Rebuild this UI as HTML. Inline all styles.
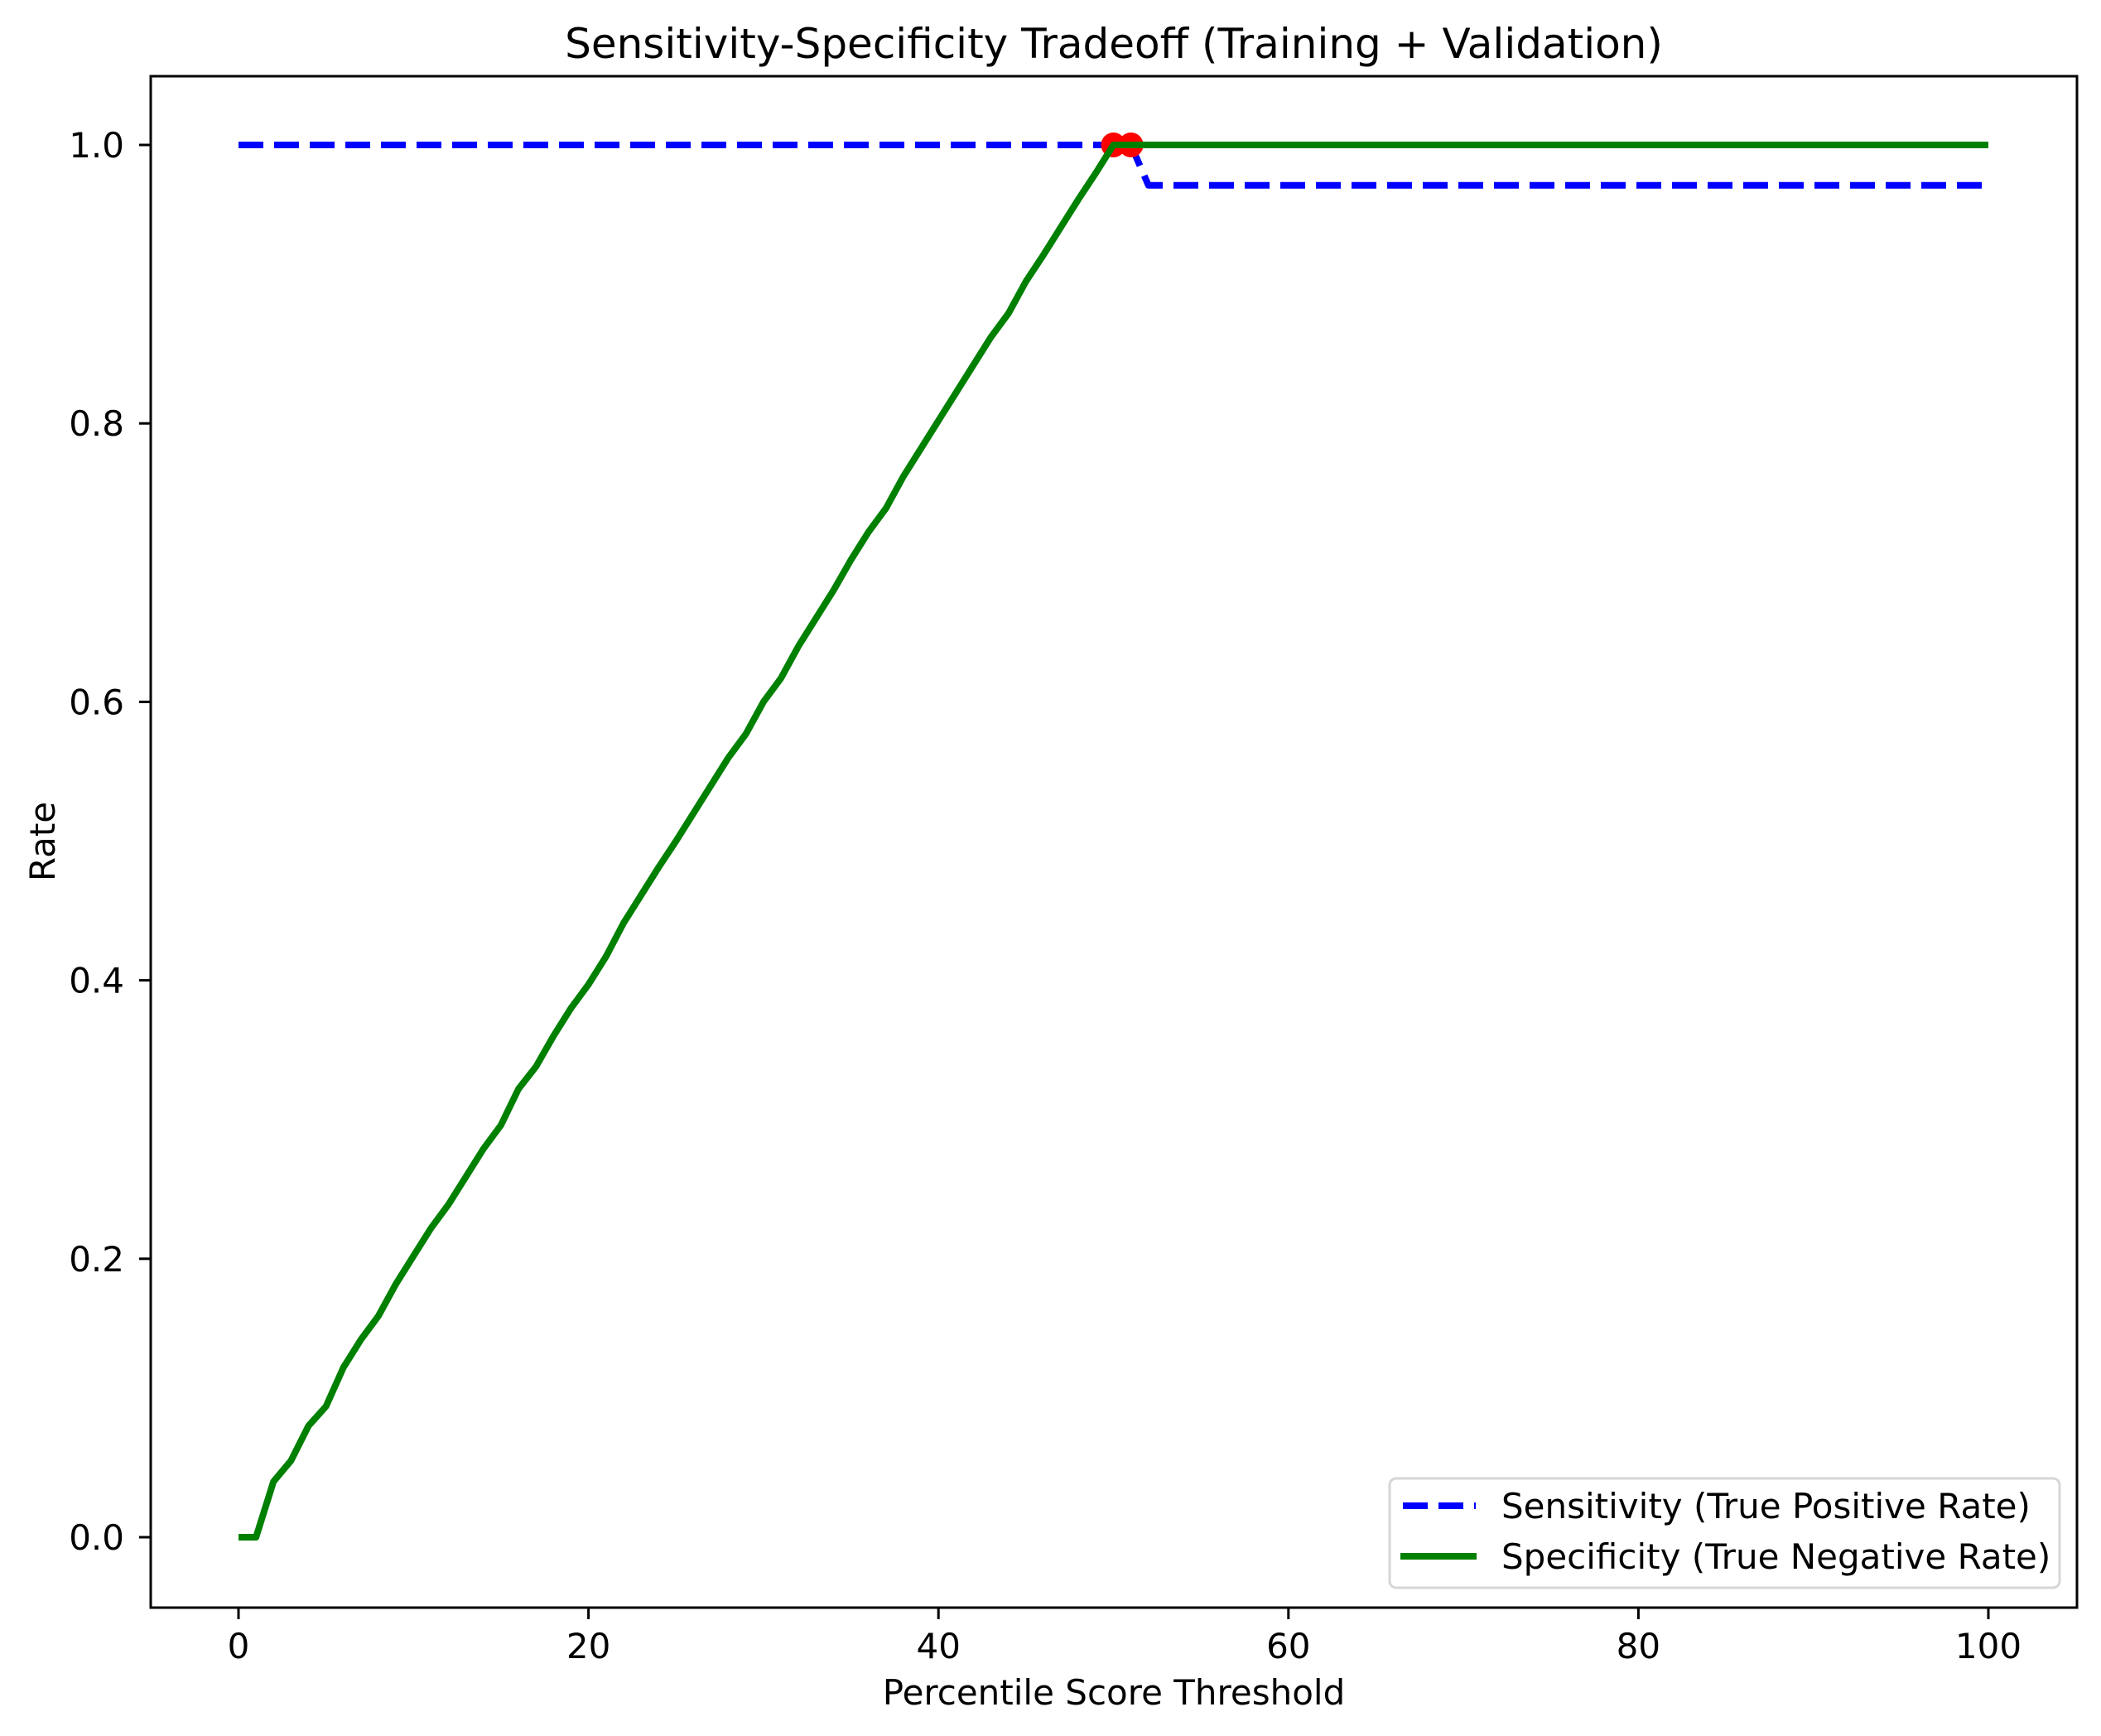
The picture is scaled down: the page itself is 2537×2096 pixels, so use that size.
<!DOCTYPE html>
<html><head><meta charset="utf-8"><style>
html,body{margin:0;padding:0;background:#fff}
svg{display:block}
text{font-family:"DejaVu Sans","Liberation Sans",sans-serif;fill:#000}
</style></head><body>
<svg id="chart" width="2537" height="2096" viewBox="0 0 2537 2096" xmlns="http://www.w3.org/2000/svg">
<rect x="0" y="0" width="2537" height="2096" fill="#fff"/>
<text x="1345" y="70" font-size="50" text-anchor="middle">Sensitivity-Specificity Tradeoff (Training + Validation)</text>
<g id="plot"></g>
<rect x="182" y="92" width="2326" height="1849" fill="none" stroke="#000" stroke-width="3"/>
<g id="xticks"></g>
<g id="yticks"></g>
<text x="1345" y="2058" font-size="42" text-anchor="middle">Percentile Score Threshold</text>
<text x="0" y="0" font-size="42" text-anchor="middle" transform="translate(66,1016) rotate(-90)">Rate</text>
<g>
<rect x="1678" y="1785" width="809" height="132" rx="8" fill="#fff" fill-opacity="0.8" stroke="#d6d6d6" stroke-width="3"/>
<line x1="1694" y1="1818" x2="1782" y2="1818" stroke="#0000ff" stroke-width="8" stroke-dasharray="30,13"/>
<text x="1813" y="1833" font-size="42">Sensitivity (True Positive Rate)</text>
<line x1="1691" y1="1879" x2="1783" y2="1879" stroke="#008000" stroke-width="8"/>
<text x="1813" y="1894" font-size="42">Specificity (True Negative Rate)</text>
</g>
</svg>
<script>
const thresholds = Array.from({length:101},(_,i)=>i);
const sensitivity = [1,1,1,1,1,1,1,1,1,1, 1,1,1,1,1,1,1,1,1,1, 1,1,1,1,1,1,1,1,1,1, 1,1,1,1,1,1,1,1,1,1, 1,1,1,1,1,1,1,1,1,1, 1,1,0.971,0.971,0.971,0.971,0.971,0.971,0.971,0.971, 0.971,0.971,0.971,0.971,0.971,0.971,0.971,0.971,0.971,0.971, 0.971,0.971,0.971,0.971,0.971,0.971,0.971,0.971,0.971,0.971, 0.971,0.971,0.971,0.971,0.971,0.971,0.971,0.971,0.971,0.971, 0.971,0.971,0.971,0.971,0.971,0.971,0.971,0.971,0.971,0.971, 0.971];
const specificityHead = [0,0,0.04,0.055,0.08,0.094,0.122,0.142,0.159,0.182,0.202,0.222,0.239,0.259,0.279,0.296,0.322,0.338,0.36,0.38,0.397,0.417,0.441,0.461,0.481,0.5,0.52,0.54,0.56,0.577,0.6,0.617,0.64,0.66,0.68,0.702,0.722,0.739,0.762,0.782,0.802,0.822,0.842,0.862,0.879,0.902,0.921,0.941,0.961,0.98,1.0];
const specificity = specificityHead.concat(Array(50).fill(1.0));
const optimalX = [50,51];
const optimalY = [1.0,1.0];
const xTickValues = [0,20,40,60,80,100];
const yTickValues = [0,0.2,0.4,0.6,0.8,1.0];
const yTickLabels = ["0.0","0.2","0.4","0.6","0.8","1.0"];

const NS="http://www.w3.org/2000/svg";
function xs(v){return 288 + v*21.13;}
function ys(v){return 1856 - v*1681;}
function mk(tag,attrs,parent){const e=document.createElementNS(NS,tag);for(const k in attrs)e.setAttribute(k,attrs[k]);parent.appendChild(e);return e;}
const plot=document.getElementById('plot');
const pts=(arr)=>thresholds.map((t,i)=>xs(t).toFixed(2)+','+ys(arr[i]).toFixed(2)).join(' ');
const s=mk('polyline',{points:pts(sensitivity),fill:'none',stroke:'#0000ff','stroke-width':8,'stroke-dasharray':'30,13','stroke-linejoin':'round'},plot);


const g=mk('polyline',{points:pts(specificity),fill:'none',stroke:'#008000','stroke-width':8,'stroke-linejoin':'round'},plot);


optimalX.forEach((v,i)=>{
  const c=mk('circle',{cx:xs(v),cy:ys(optimalY[i]),r:15,fill:'#ff0000'},plot);
  
  
});
plot.appendChild(g);
const xt=document.getElementById('xticks');
xTickValues.forEach(v=>{
  const l=mk('line',{x1:xs(v),x2:xs(v),y1:1941,y2:1955,stroke:'#000','stroke-width':3},xt);
  
  
  const t=mk('text',{x:xs(v),y:2002,'font-size':42,'text-anchor':'middle'},xt);
  t.textContent=String(v);
  
  
});
const yt=document.getElementById('yticks');
yTickValues.forEach((v,i)=>{
  const l=mk('line',{x1:168,x2:182,y1:ys(v),y2:ys(v),stroke:'#000','stroke-width':3},yt);
  
  
  const t=mk('text',{x:150,y:ys(v)+15,'font-size':42,'text-anchor':'end'},yt);
  t.textContent=yTickLabels[i];
  
  
});
</script>
</body></html>
